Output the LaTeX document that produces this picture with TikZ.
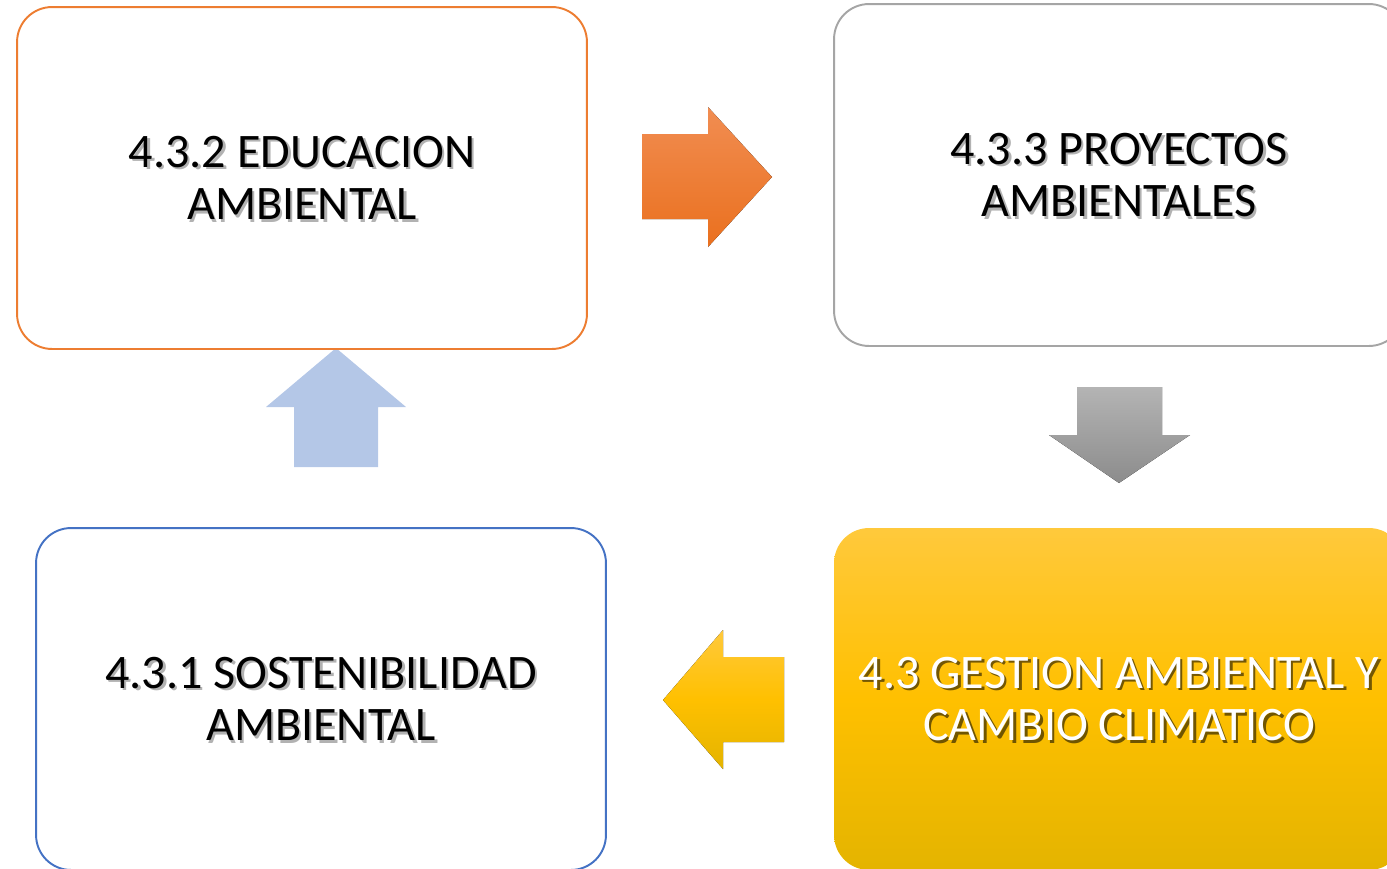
\documentclass[tikz,border=0pt]{standalone}
\usepackage{fontspec}
\setmainfont{Carlito}
\usepackage{tikz}
\usetikzlibrary{positioning, calc}
\definecolor{edgeorange}{RGB}{237,125,49}
\definecolor{edgegray}{RGB}{165,165,165}
\definecolor{edgeblue}{RGB}{68,114,196}
\definecolor{goldtop}{RGB}{255,201,60}
\definecolor{goldmid}{RGB}{255,192,0}
\definecolor{goldbot}{RGB}{228,180,0}
\definecolor{orangetop}{RGB}{241,141,82}
\definecolor{orangebot}{RGB}{234,112,30}
\definecolor{graytop}{RGB}{180,180,180}
\definecolor{graybot}{RGB}{140,140,140}
\definecolor{paleblue}{RGB}{180,199,231}
\newcommand{\boxfont}{\fontsize{27.4}{29.8}\selectfont}
\tikzset{
  box/.style={rectangle, rounded corners=0.7cm, minimum width=11.4cm,
    minimum height=6.84cm, line width=1.1pt, fill=white},
  goldbox/.style={rectangle, rounded corners=0.7cm, minimum width=11.4cm,
    minimum height=6.84cm, shading=axis, top color=goldtop,
    bottom color=goldbot, middle color=goldmid},
  boxlabel/.style={align=center, font=\boxfont, inner sep=0pt},
  darkshadow/.style={boxlabel, text=black, opacity=0.3},
  lightlabel/.style={boxlabel, text=white},
}

\begin{document}
\begin{tikzpicture}[x=0.02cm, y=-0.02cm]
  \useasboundingbox (0,0) rectangle (1387,869);
  \clip (0,0) rectangle (1387,869);

  % Block arrows
  \fill[top color=orangetop, bottom color=orangebot]
    (642,134) -- (708,134) -- (708,107) -- (772,177) -- (708,247) -- (708,219) -- (642,219) -- cycle;
  \fill[top color=graytop, bottom color=graybot]
    (1077,387) -- (1162,387) -- (1162,435) -- (1190,435) -- (1119,483) -- (1049,435) -- (1077,435) -- cycle;
  \fill[top color=goldtop, bottom color=goldbot, middle color=goldmid]
    (784,657) -- (723,657) -- (723,630) -- (663,700) -- (723,769) -- (723,742) -- (784,742) -- cycle;
  \fill[paleblue]
    (294,467) -- (294,407) -- (266,407) -- (336,348) -- (406,407) -- (378,407) -- (378,467) -- cycle;

  % Boxes
  \node[box, draw=edgeorange] (edu) at (302,178) {};
  \node[box, draw=edgegray] (proy) at (1119,175) {};
  \node[box, draw=edgeblue] (sost) at (321,699) {};
  \node[goldbox] (gest) at (1119,699) {};

  % Labels (with text shadow)
  \node[darkshadow] (edu-s) at ([xshift=0.05cm, yshift=-0.05cm]edu.center) {4.3.2 EDUCACION\\AMBIENTAL};
  \node[boxlabel] (edu-t) at (edu.center) {4.3.2 EDUCACION\\AMBIENTAL};
  \node[darkshadow] (proy-s) at ([xshift=0.05cm, yshift=-0.05cm]proy.center) {4.3.3 PROYECTOS\\AMBIENTALES};
  \node[boxlabel] (proy-t) at (proy.center) {4.3.3 PROYECTOS\\AMBIENTALES};
  \node[darkshadow] (sost-s) at ([xshift=0.05cm, yshift=-0.05cm]sost.center) {4.3.1 SOSTENIBILIDAD\\AMBIENTAL};
  \node[boxlabel] (sost-t) at (sost.center) {4.3.1 SOSTENIBILIDAD\\AMBIENTAL};
  \node[darkshadow, opacity=0.55] (gest-s) at ([xshift=0.05cm, yshift=-0.05cm]gest.center) {4.3 GESTION AMBIENTAL Y\\CAMBIO CLIMATICO};
  \node[lightlabel] (gest-t) at (gest.center) {4.3 GESTION AMBIENTAL Y\\CAMBIO CLIMATICO};
\end{tikzpicture}
\end{document}
